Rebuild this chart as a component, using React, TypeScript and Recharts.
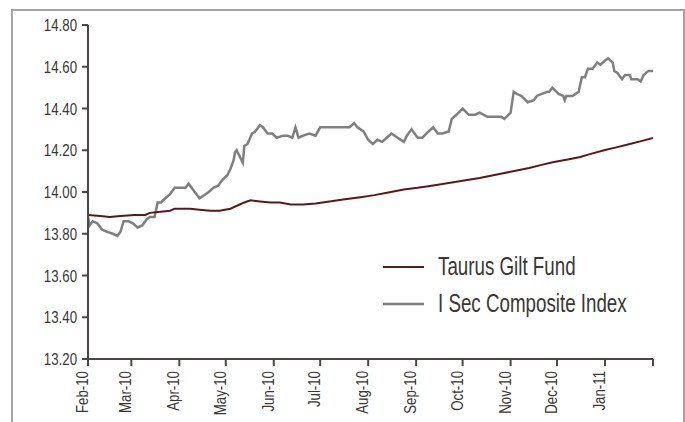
import { LineChart, Line, XAxis, YAxis, Legend } from 'recharts'

// days counted from 1 Feb 2010
const monthTicks = [0, 28, 59, 89, 120, 150, 181, 212, 242, 273, 303, 334, 365]
const monthLabels = ['Feb-10', 'Mar-10', 'Apr-10', 'May-10', 'Jun-10', 'Jul-10', 'Aug-10', 'Sep-10', 'Oct-10', 'Nov-10', 'Dec-10', 'Jan-11', '']
const yTicks = [13.2, 13.4, 13.6, 13.8, 14.0, 14.2, 14.4, 14.6, 14.8]
const legendOrder = ['Taurus Gilt Fund', 'I Sec Composite Index']

const fundDays = [0, 8, 14, 21, 30, 37, 40, 47, 53, 56, 66, 72, 79, 85, 92, 98, 101, 105, 111, 118, 124, 131, 139, 147, 156, 166, 176, 185, 194, 204, 213, 221, 229, 237, 245, 253, 261, 269, 277, 285, 293, 301, 310, 318, 326, 334, 342, 350, 358, 365]
const fundNav = [13.89, 13.885, 13.88, 13.885, 13.89, 13.89, 13.9, 13.905, 13.91, 13.92, 13.92, 13.915, 13.91, 13.91, 13.92, 13.94, 13.95, 13.96, 13.955, 13.95, 13.95, 13.94, 13.94, 13.945, 13.955, 13.965, 13.975, 13.985, 13.998, 14.012, 14.02, 14.029, 14.038, 14.048, 14.057, 14.067, 14.079, 14.091, 14.103, 14.115, 14.13, 14.144, 14.156, 14.168, 14.185, 14.201, 14.215, 14.23, 14.245, 14.259]

const indexDays = [0, 1, 3, 6, 9, 12, 16, 19, 21, 23, 26, 29, 32, 35, 38, 40, 43, 45, 47, 50, 53, 56, 59, 63, 65, 68, 70, 72, 74, 78, 81, 84, 87, 90, 92, 94, 95, 96, 100, 101, 103, 106, 108, 111, 113, 116, 119, 122, 126, 129, 132, 134, 136, 139, 143, 147, 150, 153, 156, 161, 165, 169, 172, 174, 178, 181, 184, 187, 190, 193, 196, 200, 204, 206, 209, 213, 216, 220, 223, 226, 229, 233, 235, 238, 242, 246, 250, 253, 258, 263, 267, 269, 273, 275, 277, 280, 284, 288, 290, 293, 297, 298, 300, 304, 307, 308, 309, 313, 317, 319, 321, 323, 326, 329, 331, 334, 336, 339, 340, 342, 345, 347, 350, 351, 355, 357, 359, 362, 365]
const indexValues = [13.88, 13.84, 13.86, 13.85, 13.82, 13.81, 13.8, 13.79, 13.81, 13.86, 13.86, 13.85, 13.83, 13.84, 13.87, 13.88, 13.88, 13.95, 13.95, 13.97, 13.99, 14.02, 14.02, 14.02, 14.04, 14.01, 13.99, 13.97, 13.98, 14.0, 14.02, 14.03, 14.06, 14.08, 14.11, 14.15, 14.19, 14.2, 14.14, 14.22, 14.23, 14.28, 14.29, 14.32, 14.31, 14.28, 14.28, 14.26, 14.27, 14.27, 14.26, 14.31, 14.26, 14.27, 14.28, 14.27, 14.31, 14.31, 14.31, 14.31, 14.31, 14.31, 14.33, 14.31, 14.29, 14.25, 14.23, 14.25, 14.24, 14.26, 14.28, 14.26, 14.24, 14.27, 14.3, 14.26, 14.26, 14.29, 14.31, 14.28, 14.28, 14.29, 14.35, 14.37, 14.4, 14.37, 14.37, 14.38, 14.36, 14.36, 14.36, 14.35, 14.38, 14.48, 14.47, 14.46, 14.43, 14.44, 14.46, 14.47, 14.48, 14.48, 14.5, 14.47, 14.46, 14.44, 14.46, 14.46, 14.48, 14.55, 14.55, 14.59, 14.59, 14.62, 14.61, 14.63, 14.64, 14.62, 14.58, 14.57, 14.54, 14.56, 14.56, 14.54, 14.54, 14.53, 14.56, 14.58, 14.58]

const FONT = '"Liberation Sans", Arial, sans-serif'
const NARROW = 0.78 // squeeze to look like the condensed face of the original
const TEXT = '#3a3734'
const AXIS = '#4a4643'
const FUND_COLOR = '#5c1718'
const INDEX_COLOR = '#7f7f7f'

const fundData = fundDays.map((day, i) => ({ day, value: fundNav[i] }))
const indexData = indexDays.map((day, i) => ({ day, value: indexValues[i] }))

function MonthTick(props: any) {
  const { x, y, payload } = props
  const label = monthLabels[monthTicks.indexOf(payload.value)] ?? ''
  return (
    <text
      x={0}
      y={0}
      transform={`translate(${x} ${y}) rotate(-90) scale(${NARROW} 1)`}
      textAnchor="end"
      fill={TEXT}
      fontSize={17}
      fontFamily={FONT}
    >
      {label}
    </text>
  )
}

function ValueTick(props: any) {
  const { x, y, payload } = props
  return (
    <text
      x={0}
      y={0}
      dy="0.36em"
      transform={`translate(${x} ${y}) scale(${NARROW} 1)`}
      textAnchor="end"
      fill={TEXT}
      fontSize={17}
      fontFamily={FONT}
    >
      {Number(payload.value).toFixed(2)}
    </text>
  )
}

function LegendBox(props: any) {
  const items = [...(props.payload || [])].sort(
    (a: any, b: any) => legendOrder.indexOf(a.value) - legendOrder.indexOf(b.value)
  )
  return (
    <div style={{ fontFamily: FONT, fontSize: 25, color: TEXT }}>
      {items.map((item: any) => (
        <div key={item.value} style={{ display: 'flex', alignItems: 'center', height: 37, whiteSpace: 'nowrap' }}>
          <svg width={41} height={6} style={{ marginRight: 14, flex: 'none' }}>
            <line x1={0} y1={3} x2={41} y2={3} stroke={item.color} strokeWidth={item.value === 'Taurus Gilt Fund' ? 2 : 2.5} />
          </svg>
          <span style={{ display: 'inline-block', transform: 'scaleX(0.75)', transformOrigin: 'left center' }}>
            {item.value}
          </span>
        </div>
      ))}
    </div>
  )
}

export default function App() {
  return (
    <div>
      <div
        style={{
          position: 'fixed',
          left: 11,
          top: 9,
          width: 674,
          height: 420,
          border: '2px solid #a3a3a3',
          borderBottom: 'none',
          boxSizing: 'border-box',
          background: '#fff',
        }}
      />
      <div style={{ position: 'fixed', left: 0, top: 0 }}>
        <LineChart width={685} height={422} margin={{ top: 25, right: 32, left: 28, bottom: 3 }}>
          <XAxis
            type="number"
            dataKey="day"
            domain={[0, 365]}
            ticks={monthTicks}
            interval={0}
            tick={<MonthTick />}
            tickSize={7}
            tickMargin={5}
            height={60}
            axisLine={{ stroke: AXIS, strokeWidth: 2 }}
            tickLine={{ stroke: AXIS, strokeWidth: 2 }}
            allowDataOverflow
          />
          <YAxis
            type="number"
            domain={[13.2, 14.8]}
            ticks={yTicks}
            interval={0}
            width={60}
            tickSize={6}
            tickMargin={5}
            tick={<ValueTick />}
            axisLine={{ stroke: AXIS, strokeWidth: 2 }}
            tickLine={{ stroke: AXIS, strokeWidth: 2 }}
            allowDataOverflow
          />
          <Legend
            layout="vertical"
            align="center"
            verticalAlign="middle"
            content={<LegendBox />}
            wrapperStyle={{ left: 383, top: 248, width: 280 }}
          />
          <Line
            data={indexData}
            dataKey="value"
            name="I Sec Composite Index"
            stroke={INDEX_COLOR}
            strokeWidth={2.5}
            dot={false}
            isAnimationActive={false}
            legendType="line"
          />
          <Line
            data={fundData}
            dataKey="value"
            name="Taurus Gilt Fund"
            stroke={FUND_COLOR}
            strokeWidth={2}
            dot={false}
            isAnimationActive={false}
            legendType="line"
          />
        </LineChart>
      </div>
    </div>
  )
}
